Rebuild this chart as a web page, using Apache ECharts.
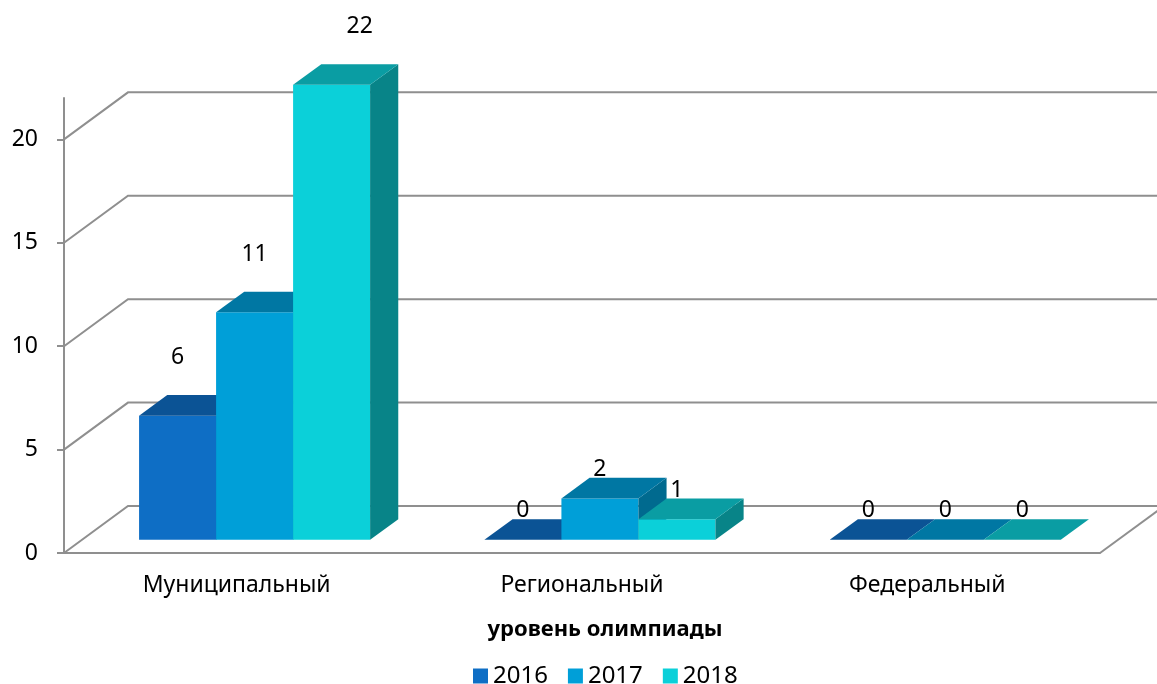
<!DOCTYPE html>
<html>
<head>
<meta charset="utf-8">
<script src="https://cdn.jsdelivr.net/npm/echarts@6/dist/echarts.min.js"></script>
<style>
html, body { margin: 0; padding: 0; background: #fff; }
#chart { width: 1157px; height: 684px; }
</style>
</head>
<body>
<div id="chart"></div>
<script>
// данные
var categories = ['Муниципальный', 'Региональный', 'Федеральный'];
var years = ['2016', '2017', '2018'];
var values2016 = [6, 0, 0];
var values2017 = [11, 2, 0];
var values2018 = [22, 1, 0];
var yTicks = [0, 5, 10, 15, 20];

var font = 'Noto Sans';
var gridColor = '#8f8f8f';
var depth = [64, -47];          // смещение задней стенки
var barFront = 0.28, barBack = 0.72;
var palette = [
    { front: '#0e6ec5', top: '#0b5395', side: '#094a85' },
    { front: '#009fd8', top: '#0077a3', side: '#006a8f' },
    { front: '#0bd0d9', top: '#0a9da3', side: '#088488' }
];

// стенки и линии сетки
function wallRenderer(params, api) {
    var t = api.value(1);
    var band = api.size([1, 0])[0];
    var p = api.coord([0, t]);
    var xl = p[0] - band / 2;
    var xr = api.coord([categories.length - 1, t])[0] + band / 2;
    var children = [{
        type: 'polyline',
        shape: { points: [[xl, p[1]], [xl + depth[0], p[1] + depth[1]], [xr + depth[0], p[1] + depth[1]]] },
        style: { stroke: gridColor, lineWidth: 2, fill: null }
    }];
    if (t === 0) {
        children.push({
            type: 'line',
            shape: { x1: xr, y1: p[1], x2: xr + depth[0], y2: p[1] + depth[1] },
            style: { stroke: gridColor, lineWidth: 2 }
        });
    }
    return { type: 'group', children: children };
}

// 3D столбик
function barRenderer(k) {
    return function (params, api) {
        var cat = api.value(0), v = api.value(1);
        var base = api.coord([cat, 0]);
        var topPt = api.coord([cat, v]);
        var band = api.size([1, 0])[0];
        var w = band * 0.223;
        var fx = depth[0] * barFront, fy = depth[1] * barFront;
        var bx = depth[0] * (barBack - barFront), by = depth[1] * (barBack - barFront);
        var x0 = base[0] - 1.5 * w + k * w + fx;
        var x1 = x0 + w;
        var yb = base[1] + fy, yt = topPt[1] + fy;
        var c = palette[k];
        var children = [];
        if (yb - yt > 0.5) {
            children.push({ type: 'rect', shape: { x: x0, y: yt, width: w, height: yb - yt }, style: { fill: c.front } });
            children.push({ type: 'polygon', shape: { points: [[x1, yt], [x1 + bx, yt + by], [x1 + bx, yb + by], [x1, yb]] }, style: { fill: c.side } });
        }
        children.push({ type: 'polygon', shape: { points: [[x0, yt], [x1, yt], [x1 + bx, yt + by], [x0 + bx, yt + by]] }, style: { fill: c.top } });
        // подпись поднята как в Excel: у высоких столбиков выше
        var lift = v >= 5 ? 58 : 29;
        var lx = x0 + w / 2 + (yt - lift < 40 ? bx : 0);
        children.push({
            type: 'text',
            z2: 10,
            style: {
                text: String(v), x: lx, y: yt - lift,
                align: 'center', verticalAlign: 'middle',
                font: '23px "' + font + '"', fill: '#000'
            }
        });
        return { type: 'group', children: children };
    };
}

var chart = echarts.init(document.getElementById('chart'));
var seriesValues = [values2016, values2017, values2018];

var series = [{
    type: 'custom',
    name: 'walls',
    z: 1,
    renderItem: wallRenderer,
    data: yTicks.map(function (t) { return [0, t]; }),
    silent: true
}];
years.forEach(function (y, k) {
    series.push({
        type: 'custom',
        name: y,
        z: 2 + k,
        itemStyle: { color: palette[k].front },
        renderItem: barRenderer(k),
        data: seriesValues[k].map(function (v, i) { return [i, v]; })
    });
});

chart.setOption({
    animation: false,
    textStyle: { fontFamily: font },
    grid: { left: 64, right: 57, top: 98, bottom: 131 },
    legend: {
        data: years,
        left: 468,
        top: 659,
        icon: 'rect',
        itemWidth: 15,
        itemHeight: 15,
        itemGap: 20,
        textStyle: { fontSize: 24, color: '#000', fontFamily: font }
    },
    xAxis: {
        type: 'category',
        data: categories,
        name: 'уровень олимпиады',
        nameLocation: 'middle',
        nameGap: 66,
        nameTextStyle: { fontSize: 22, fontWeight: 'bold', color: '#000', padding: [0, 0, 0, 46] },
        axisLine: { lineStyle: { color: gridColor, width: 2 } },
        axisTick: { length: 8, lineStyle: { color: gridColor, width: 2 } },
        axisLabel: { fontSize: 23, color: '#000', margin: 21 },
        splitLine: { show: false }
    },
    yAxis: {
        type: 'value',
        min: 0,
        max: 22,
        interval: 5,
        axisLine: { show: true, lineStyle: { color: gridColor, width: 2 } },
        axisTick: { show: true, length: 7, customValues: yTicks, lineStyle: { color: gridColor, width: 2 } },
        axisLabel: { fontSize: 23, color: '#000', margin: 26, customValues: yTicks },
        splitLine: { show: false }
    },
    series: series
});
</script>
</body>
</html>
